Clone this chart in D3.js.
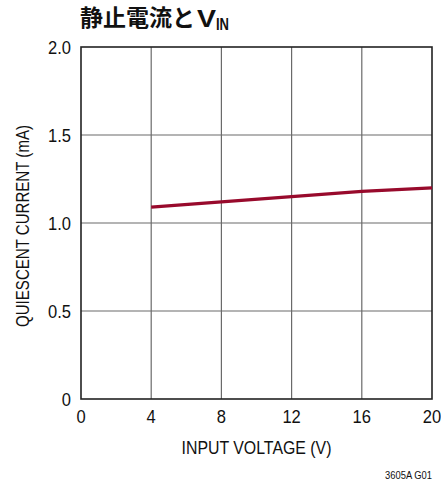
<!DOCTYPE html>
<html>
<head>
<meta charset="utf-8">
<script src="https://cdn.jsdelivr.net/npm/d3@7"></script>
<style>
  html, body { margin: 0; padding: 0; background: #fff; }
  svg { display: block; }
  .cond { font-family: "Liberation Sans Narrow", "Arial Narrow", "Liberation Sans", sans-serif; }
</style>
</head>
<body>
<svg id="chart" width="441" height="485"></svg>
<script>
// Quiescent current vs input voltage
const inputVoltage = [4, 8, 12, 16, 20];
const quiescentCurrent = [1.09, 1.12, 1.15, 1.18, 1.20];
const xTicks = [0, 4, 8, 12, 16, 20];
const yTicks = [0, 0.5, 1.0, 1.5, 2.0];
const yTickLabels = ["0", "0.5", "1.0", "1.5", "2.0"];

const svg = d3.select("#chart");
const margin = { left: 81, right: 9, top: 47, bottom: 86 };
const W = 441, H = 485;

const x = d3.scaleLinear().domain([0, 20]).range([margin.left, W - margin.right]);
const y = d3.scaleLinear().domain([0, 2]).range([H - margin.bottom, margin.top]);

// grid
svg.append("g").selectAll("line").data(xTicks.slice(1, -1)).join("line")
  .attr("x1", d => x(d)).attr("x2", d => x(d))
  .attr("y1", y(0)).attr("y2", y(2))
  .attr("stroke", "#6a6a6a").attr("stroke-width", 1.2);
svg.append("g").selectAll("line").data(yTicks.slice(1, -1)).join("line")
  .attr("x1", x(0)).attr("x2", x(20))
  .attr("y1", d => y(d)).attr("y2", d => y(d))
  .attr("stroke", "#6a6a6a").attr("stroke-width", 1.2);

// frame
svg.append("rect")
  .attr("x", x(0)).attr("y", y(2))
  .attr("width", x(20) - x(0)).attr("height", y(0) - y(2))
  .attr("fill", "none").attr("stroke", "#222").attr("stroke-width", 1.6);

// data line
svg.append("path")
  .datum(inputVoltage.map((v, i) => [v, quiescentCurrent[i]]))
  .attr("d", d3.line().x(d => x(d[0])).y(d => y(d[1])))
  .attr("fill", "none").attr("stroke", "#980a2c").attr("stroke-width", 3.2);

// tick labels (condensed look via slight horizontal squeeze)
svg.append("g").attr("class", "cond").selectAll("text").data(xTicks).join("text")
  .attr("transform", d => `translate(${x(d)},423) scale(0.92,1)`)
  .attr("text-anchor", "middle").attr("font-size", 18).attr("fill", "#111")
  .text(d => d);
svg.append("g").attr("class", "cond").selectAll("text").data(yTicks).join("text")
  .attr("transform", d => `translate(71,${y(d) + 6.5}) scale(0.92,1)`)
  .attr("text-anchor", "end").attr("font-size", 18).attr("fill", "#111")
  .text((d, i) => yTickLabels[i]);

// axis titles
svg.append("text").attr("class", "cond")
  .attr("x", (x(0) + x(20)) / 2 - 75).attr("y", 454)
  .attr("font-size", 19).attr("fill", "#111")
  .attr("textLength", 150).attr("lengthAdjust", "spacingAndGlyphs")
  .text("INPUT VOLTAGE (V)");
svg.append("text").attr("class", "cond")
  .attr("transform", `translate(29,327) rotate(-90)`)
  .attr("font-size", 19).attr("fill", "#111")
  .attr("textLength", 202).attr("lengthAdjust", "spacingAndGlyphs")
  .text("QUIESCENT CURRENT (mA)");

// title
svg.append("text")
  .attr("x", 80).attr("y", 26)
  .attr("font-size", 23).attr("font-weight", "bold").attr("fill", "#111")
  .attr("font-family", "'Noto Sans CJK JP', sans-serif")
  .text("静止電流と");
svg.append("text").attr("class", "cond")
  .attr("x", 197).attr("y", 27)
  .attr("font-size", 24).attr("font-weight", "bold").attr("fill", "#111")
  .attr("textLength", 19).attr("lengthAdjust", "spacingAndGlyphs")
  .text("V");
svg.append("text").attr("class", "cond")
  .attr("x", 216).attr("y", 30)
  .attr("font-size", 16).attr("font-weight", "bold").attr("fill", "#111")
  .attr("textLength", 13).attr("lengthAdjust", "spacingAndGlyphs")
  .text("IN");

// figure id
svg.append("text").attr("class", "cond")
  .attr("x", 385).attr("y", 479)
  .attr("font-size", 11).attr("fill", "#111")
  .attr("textLength", 47).attr("lengthAdjust", "spacingAndGlyphs")
  .text("3605A G01");
</script>
</body>
</html>
